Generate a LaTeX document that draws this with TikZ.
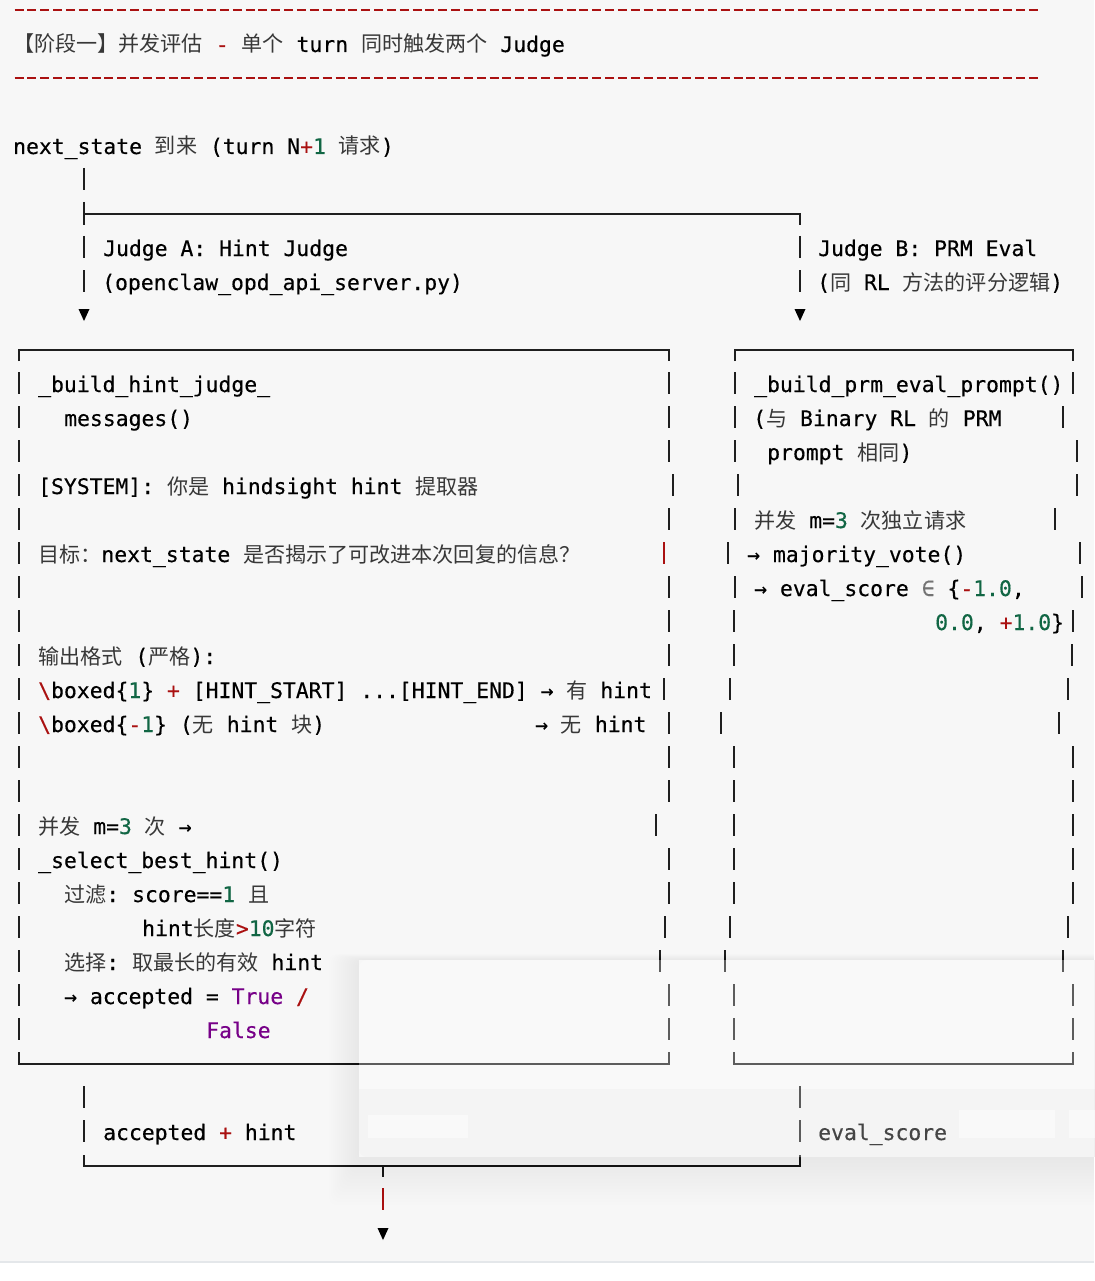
\documentclass[tikz,border=0pt]{standalone}
\usepackage{fontspec}
\setmonofont{DejaVu Sans Mono}[FakeBold=0.35]
\newfontfamily\cjkfont[Scale=0.985]{Noto Sans CJK SC}
\definecolor{pagebg}{HTML}{F7F7F7}
\definecolor{codered}{HTML}{AA1111}
\definecolor{codenum}{HTML}{116644}
\definecolor{codeatom}{HTML}{770088}
\definecolor{cjktext}{HTML}{383838}
\definecolor{edgeline}{HTML}{E4E7EA}
\newcommand{\zh}[1]{{\cjkfont\color{cjktext}#1}}
\newcommand{\op}[1]{\textcolor{codered}{#1}}
\newcommand{\nm}[1]{\textcolor{codenum}{#1}}
\newcommand{\kw}[1]{\textcolor{codeatom}{#1}}
\tikzset{
	codeline/.style={
		anchor=base west,
		inner sep=0pt,
		yshift=-2pt,
		font=\ttfamily\fontsize{21.4}{34}\selectfont,
		text=black,
	},
	glyphbar/.style={draw=black!88, line width=1.6pt},
	boxline/.style={draw=black!88, line width=2pt},
	ruler/.style={
		draw=codered,
		line width=2.2pt,
		dash pattern=on 9pt off 3.84pt,
	},
	arrowhead/.style={fill=black},
	panel/.style={fill=white, opacity=0.28, rounded corners=8pt},
}

\begin{document}
\begin{tikzpicture}[x=1pt, y=-1pt]
	\useasboundingbox (0,0) rectangle (1094,1281);
	\fill[pagebg] (0,0) rectangle (1094,1262);

	\draw[ruler] (14.5,10) -- (1038,10);
	\draw[ruler] (14.5,78) -- (1038,78);
	\node[codeline] (header) at (13,50) {\zh{【阶段一】并发评估} \op{-} \zh{单个} turn \zh{同时触发两个} Judge};

	\node[codeline] (nextstate) at (13,152) {next\_state \zh{到来} (turn N\op{+}\nm{1} \zh{请求})};
	\node[codeline] (judgeA) at (103,254) {Judge A: Hint Judge};
	\node[codeline] (judgeAsrc) at (102,288) {(openclaw\_opd\_api\_server.py)};
	\node[codeline] (judgeB) at (818,254) {Judge B: PRM Eval};
	\node[codeline] (judgeBsrc) at (817,288) {(\zh{同} RL \zh{方法的评分逻辑})};

	\coordinate (split) at (84,214);
	\coordinate (toA) at (84,315);
	\coordinate (toB) at (800,315);
	\coordinate (join) at (383,1166);
	\coordinate (out) at (383,1234);

	\draw[glyphbar] (84,168) -- (84,190);
	\draw[glyphbar] (84,202) -- (split) -- (84,225);
	\draw[boxline] (split) -- (800,214) -- (800,225);
	\foreach \x in {84,800} {
		\draw[glyphbar] (\x,236) -- (\x,258);
		\draw[glyphbar] (\x,270) -- (\x,292);
		\draw[glyphbar] (\x,1086) -- (\x,1108);
		\draw[glyphbar] (\x,1120) -- (\x,1142);
	}
	\foreach \p in {toA,toB,out}
		\fill[arrowhead] ([shift={(-5.5,-6)}]\p) -- ([shift={(5.5,-6)}]\p) -- ([shift={(0,6)}]\p) -- cycle;

	% hint judge box
	\node[codeline] (hintfn) at (38,390) {\_build\_hint\_judge\_};
	\node[codeline] (hintmsg) at (64,424) {messages()};
	\node[codeline] (sysprompt) at (38,492) {[SYSTEM]: \zh{你是} hindsight hint \zh{提取器}};
	\node[codeline] (goal) at (38,560) {\zh{目标：}next\_state \zh{是否揭示了可改进本次回复的信息？}};
	\node[codeline] (fmt) at (38,662) {\zh{输出格式} (\zh{严格}):};
	\node[codeline] (fmtyes) at (38,696) {\op{\textbackslash}boxed\{\nm{1}\} \op{+} [HINT\_START] ...[HINT\_END] → \zh{有} hint};
	\node[codeline] (fmtno) at (38,730) {\op{\textbackslash}boxed\{\op{-}\nm{1}\} (\zh{无} hint \zh{块})};
	\node[codeline] (fmtnoout) at (535,730) {→ \zh{无} hint};
	\node[codeline] (concA) at (38,832) {\zh{并发} m=\nm{3} \zh{次} →};
	\node[codeline] (selectfn) at (38,866) {\_select\_best\_hint()};
	\node[codeline] (filter) at (64,900) {\zh{过滤}: score==\nm{1} \zh{且}};
	\node[codeline] (filterlen) at (142,934) {hint\zh{长度}\op{>}\nm{10}\zh{字符}};
	\node[codeline] (choose) at (64,968) {\zh{选择}: \zh{取最长的有效} hint};
	\node[codeline] (accept) at (64,1002) {→ accepted = \kw{True} \op{/}};
	\node[codeline] (acceptfalse) at (206,1036) {\kw{False}};

	% prm eval box
	\node[codeline] (prmfn) at (754,390) {\_build\_prm\_eval\_prompt()};
	\node[codeline] (prmnote) at (753,424) {(\zh{与} Binary RL \zh{的} PRM};
	\node[codeline] (prmnotetail) at (767,458) {prompt \zh{相同})};
	\node[codeline] (concB) at (754,526) {\zh{并发} m=\nm{3} \zh{次独立请求}};
	\node[codeline] (vote) at (747,560) {→ majority\_vote()};
	\node[codeline] (score) at (754,594) {→ eval\_score \textcolor{black!55}{∈} \{\op{-}\nm{1.0},};
	\node[codeline] (scoretail) at (935,628) {\nm{0.0}, \op{+}\nm{1.0}\}};

	\draw[boxline] (19,361) -- (19,350) -- (669,350) -- (669,361);
	\draw[boxline] (735,361) -- (735,350) -- (1073,350) -- (1073,361);
	\draw[boxline] (19,1052) -- (19,1064) -- (669,1064) -- (669,1052);
	\draw[boxline] (734,1052) -- (734,1064) -- (1073,1064) -- (1073,1052);
	\foreach \y/\ra/\lb/\rb in {383/669/735/1073, 417/669/735/1063, 451/669/735/1077,
			485/673/738/1077, 519/669/735/1055, 553/664/728/1080, 587/669/735/1082,
			621/669/734/1073, 655/669/734/1072, 689/664/730/1068, 723/669/721/1059,
			757/669/734/1073, 791/669/734/1073, 825/656/734/1073, 859/669/734/1073,
			893/669/734/1073, 927/665/730/1068, 961/660/725/1063, 995/669/734/1073,
			1029/669/734/1073} {
		\draw[glyphbar] (19,\y-11) -- (19,\y+11);
		\draw[glyphbar] (\ra,\y-11) -- (\ra,\y+11);
		\draw[glyphbar] (\lb,\y-11) -- (\lb,\y+11);
		\draw[glyphbar] (\rb,\y-11) -- (\rb,\y+11);
	}
	\draw[glyphbar, draw=codered] (664,542) -- (664,564);

	% results
	\node[codeline] (outA) at (103,1138) {accepted \op{+} hint};
	\node[codeline] (outB) at (818,1138) {eval\_score};
	\draw[boxline] (84,1155) -- (84,1166) -- (join) -- (800,1166) -- (800,1155);
	\draw[glyphbar] (join) -- (383,1177);
	\draw[glyphbar, draw=codered] (383,1188) -- (383,1210);

	% floating panel over the lower right
	\begin{scope}
		\clip (0,0) -- (1094,0) -- (1094,1281) -- (0,1281) -- cycle
			(359,960) -- (359,1157) -- (1140,1157) -- (1140,960) -- cycle;
		\foreach \s in {2,4,...,30}
			\fill[black, opacity=0.0045, rounded corners=8pt] (359-\s,960-0.2*\s) rectangle (1140+\s,1157+1.6*\s);
	\end{scope}
	\fill[panel] (359,960) rectangle (1140,1157);
	\begin{scope}
		\clip[rounded corners=8pt] (359,960) rectangle (1140,1157);
		\fill[black, opacity=0.02] (359,1089) rectangle (1140,1157);
	\end{scope}
	\fill[white, opacity=0.5] (368,1115) rectangle (468,1138);
	\fill[white, opacity=0.5] (959,1110) rectangle (1055,1138);
	\fill[white, opacity=0.5] (1069,1110) rectangle (1100,1138);

	\fill[white] (0,1262) rectangle (1094,1281);
	\draw[edgeline, line width=2pt] (0,1262) -- (1094,1262);
\end{tikzpicture}
\end{document}
